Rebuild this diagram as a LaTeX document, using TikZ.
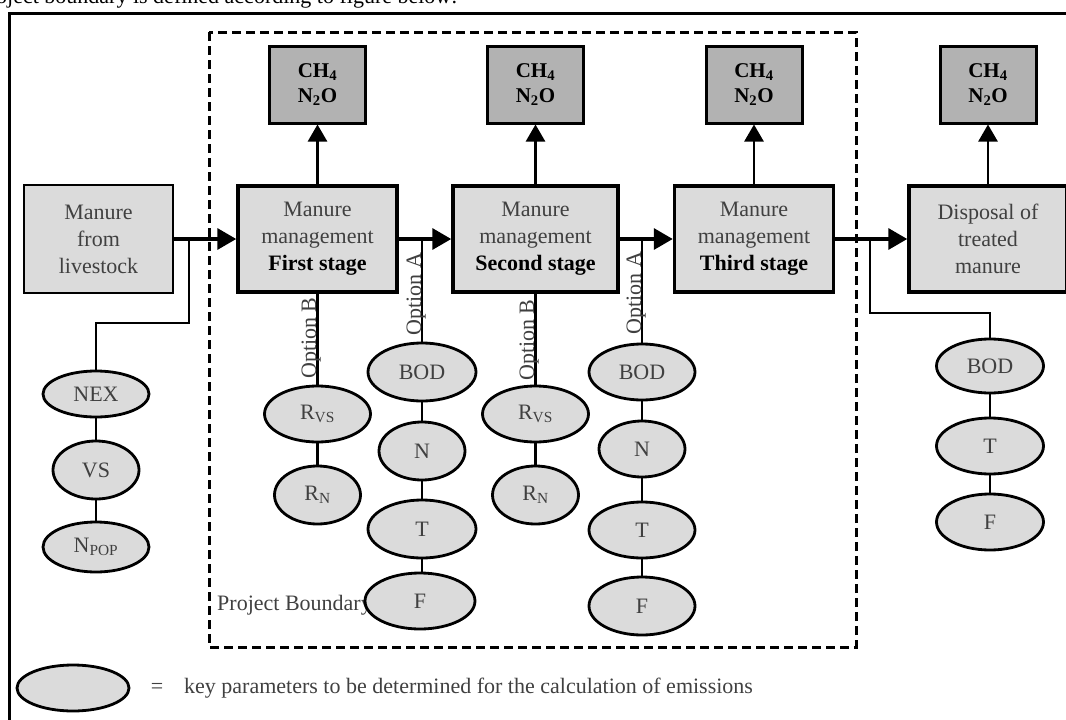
\documentclass[tikz,border=0pt]{standalone}
\usepackage{fontspec}
\setmainfont{Liberation Serif}
\usetikzlibrary{arrows.meta,shapes.geometric}
\definecolor{lightfill}{gray}{0.86}
\definecolor{darkfill}{gray}{0.70}
\definecolor{txtgrey}{gray}{0.25}
\begin{document}
\begin{tikzpicture}[x=1pt,y=-1pt,
  every node/.style={font=\fontsize{22}{27}\selectfont, text=txtgrey, align=center},
  mainbox/.style={draw, line width=3.5pt, fill=lightfill, minimum width=159pt, minimum height=106pt, inner sep=0},
  gasbox/.style={draw, line width=3pt, fill=darkfill, minimum width=96pt, minimum height=77pt, inner sep=0, text=black, font=\fontsize{21}{25}\selectfont\bfseries},
  param/.style={draw, ellipse, line width=2.8pt, fill=lightfill, inner sep=0, minimum width=106pt, minimum height=56pt},
  flow/.style={line width=3.5pt, -{Triangle[length=19pt,width=21pt]}},
  emit/.style={line width=2.5pt, -{Triangle[length=17pt,width=19pt]}},
  link/.style={line width=2.5pt},
  optlabel/.style={rotate=90, anchor=base, inner sep=0},
  boundary/.style={line width=3pt, dash pattern=on 9pt off 5pt},
]
\useasboundingbox (0,0) rectangle (1066,720);

% page text and frame
\node[anchor=base west, inner sep=0, text=black] (intro) at (-4,3) {oject boundary is defined according to figure below:};
\draw[line width=3pt] (9,730) -- (9,13) -- (1080,13);

% project boundary
\draw[boundary] (209,32) rectangle (856,647);
\node[anchor=west, inner sep=0] (pb) at (217,605) {Project Boundary};

% main boxes
\node[mainbox, line width=2.5pt, minimum width=149pt, minimum height=108pt] (liv) at (98.5,239) {Manure\\from\\livestock};
\node[mainbox] (s1) at (317.5,239) {Manure\\management\\{\color{black}\bfseries First stage}};
\node[mainbox, minimum width=165pt] (s2) at (535.5,239) {Manure\\management\\{\color{black}\bfseries Second stage}};
\node[mainbox] (s3) at (754,239) {Manure\\management\\{\color{black}\bfseries Third stage}};
\node[mainbox, minimum width=158pt] (disp) at (988,239) {Disposal of\\treated\\manure};

% emission boxes
\node[gasbox] (g1) at (317.5,84.5) {CH\textsubscript{4}\\N\textsubscript{2}O};
\node[gasbox] (g2) at (535.5,84.5) {CH\textsubscript{4}\\N\textsubscript{2}O};
\node[gasbox] (g3) at (754,84.5) {CH\textsubscript{4}\\N\textsubscript{2}O};
\node[gasbox] (g4) at (988,84.5) {CH\textsubscript{4}\\N\textsubscript{2}O};

% parameters
\node[param, minimum height=46pt] (nex) at (96,394) {NEX};
\node[param, minimum width=86pt, minimum height=58pt] (vs) at (96,470) {VS};
\node[param, minimum height=50pt] (npop) at (96,547) {N\textsubscript{POP}};

\node[param] (rvs1) at (317.5,414) {R\textsubscript{VS}};
\node[param, minimum width=86pt, minimum height=58pt] (rn1) at (317.5,495) {R\textsubscript{N}};
\node[param, minimum width=108pt, minimum height=58pt] (bod1) at (422,372) {BOD};
\node[param, minimum width=86pt, minimum height=58pt] (n1) at (422,451) {N};
\node[param, minimum width=108pt, minimum height=58pt] (t1) at (422,529) {T};
\node[param, minimum width=110pt] (f1) at (420,601) {F};

\node[param] (rvs2) at (535.5,414) {R\textsubscript{VS}};
\node[param, minimum width=86pt, minimum height=58pt] (rn2) at (535.5,495) {R\textsubscript{N}};
\node[param] (bod2) at (642,372) {BOD};
\node[param, minimum width=86pt] (n2) at (642,449) {N};
\node[param] (t2) at (642,530) {T};
\node[param, minimum height=58pt] (f2) at (642,606) {F};

\node[param, minimum width=107pt, minimum height=54pt] (bod3) at (990,366) {BOD};
\node[param, minimum width=107pt] (t3) at (990,446) {T};
\node[param, minimum width=107pt] (f3) at (990,522) {F};

\node[param, minimum width=112pt, minimum height=46pt] (leg) at (73,688) {};
\node (eq) at (157,688) {=};
\node[anchor=west, inner sep=0] (legtxt) at (184,688) {key parameters to be determined for the calculation of emissions};

% main flow
\draw[flow] (liv.east) -- (s1.west);
\draw[flow] (s1.east) -- (s2.west);
\draw[flow] (s2.east) -- (s3.west);
\draw[flow] (s3.east) -- (disp.west);

% emissions
\draw[emit] (s1.north) -- (g1.south);
\draw[emit] (s2.north) -- (g2.south);
\draw[emit] (s3.north) -- (g3.south);
\draw[emit] (disp.north) -- (g4.south);

% branches
\coordinate (j0) at (189,239);
\coordinate (k0) at (189,323);
\draw[link] (j0) -- (k0) -| (nex.north);
\draw[link] (nex.south) -- (vs.north);
\draw[link] (vs.south) -- (npop.north);

\draw[link] (s1.south) -- (rvs1.north);
\draw[link] (rvs1.south) -- (rn1.north);
\coordinate (ja1) at (422,239);
\draw[link] (ja1) -- (bod1.north);
\draw[link] (bod1.south) -- (n1.north);
\draw[link] (n1.south) -- (t1.north);
\draw[link] (t1.south) -- (f1.north -| t1.south);

\draw[link] (s2.south) -- (rvs2.north);
\draw[link] (rvs2.south) -- (rn2.north);
\coordinate (ja2) at (642,239);
\draw[link] (ja2) -- (bod2.north);
\draw[link] (bod2.south) -- (n2.north);
\draw[link] (n2.south) -- (t2.north);
\draw[link] (t2.south) -- (f2.north);

\coordinate (jd) at (870,239);
\coordinate (kd) at (870,313);
\draw[link] (jd) -- (kd) -| (bod3.north);
\draw[link] (bod3.south) -- (t3.north);
\draw[link] (t3.south) -- (f3.north);

% option labels
\node[optlabel] (ob1) at (316,338) {Option B};
\node[optlabel] (oa1) at (421,294) {Option A};
\node[optlabel] (ob2) at (534,340) {Option B};
\node[optlabel] (oa2) at (641,293) {Option A};
\end{tikzpicture}
\end{document}
